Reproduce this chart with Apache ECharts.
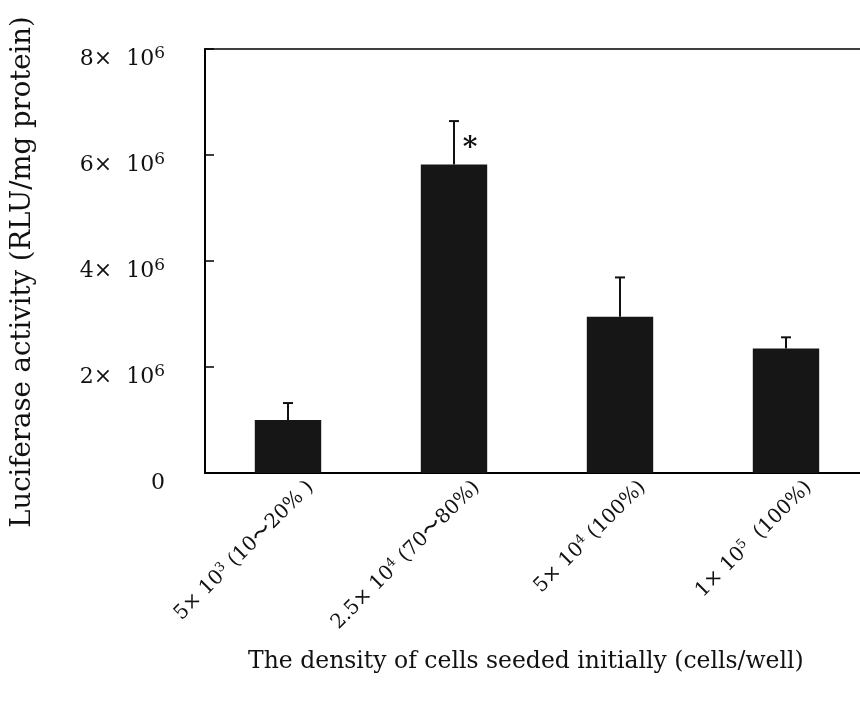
<!DOCTYPE html>
<html>
<head>
<meta charset="utf-8">
<script src="https://cdn.jsdelivr.net/npm/echarts@6/dist/echarts.min.js"></script>
<style>
  html, body { margin: 0; padding: 0; background: #fff; }
  #chart { width: 860px; height: 706px; }
</style>
</head>
<body>
<div id="chart"></div>
<script>
// Seeding densities (cells/well) with confluence
const densityBase = ['5× 10', '2.5× 10', '5× 10', '1× 10'];
const densityExp = ['3', '4', '4', '5'];
const confluence = [' (10〜20% )', ' (70〜80%)', ' (100%)', '  (100%)'];

// Luciferase activity (RLU/mg protein): mean and upper error (SD)
const meanActivity = [1.0e6, 5.82e6, 2.95e6, 2.35e6];
const errActivity = [0.32e6, 0.82e6, 0.74e6, 0.21e6];
const significance = ['', '*', '', ''];

// Y axis ticks
const yTicks = [0, 2e6, 4e6, 6e6, 8e6];

const FONT = 'DejaVu Serif';
const categories = densityBase.map((b, i) => i);

const chart = echarts.init(document.getElementById('chart'), null, { renderer: 'canvas' });

const option = {
  animation: false,
  backgroundColor: '#fff',
  grid: {
    left: 205, top: 49, width: 664, height: 424,
    outerBoundsMode: 'none',
    containLabel: false,
    show: true, borderColor: '#000', borderWidth: 1.5, backgroundColor: 'transparent'
  },
  xAxis: {
    type: 'category',
    data: categories,
    boundaryGap: true,
    axisLine: { lineStyle: { color: '#000', width: 2 } },
    axisTick: { inside: true, length: 9, lineStyle: { color: '#000', width: 1.5 } },
    axisLabel: {
      rotate: 45,
      margin: 34,
      interval: 0,
      color: '#111',
      fontFamily: FONT,
      padding: [0, -32, 0, 0],
      formatter: function (v) {
        const i = +v;
        return '{n|' + densityBase[i] + '}{s|' + densityExp[i] + '}{n|' + confluence[i] + '}';
      },
      rich: {
        n: { fontFamily: FONT, fontSize: 20, color: '#111' },
        s: { fontFamily: FONT, fontSize: 13, color: '#111', padding: [0, 0, 10, 0] }
      }
    }
  },
  yAxis: {
    type: 'value',
    min: yTicks[0],
    max: yTicks[yTicks.length - 1],
    interval: yTicks[1] - yTicks[0],
    splitLine: { show: false },
    axisLine: { show: true, lineStyle: { color: '#000', width: 2 } },
    axisTick: { show: true, inside: true, length: 9, lineStyle: { color: '#000', width: 1.5 } },
    axisLabel: {
      margin: 40,
      color: '#111',
      padding: [20, 0, 0, 0],
      formatter: function (v) {
        if (v === 0) return '{n|0}';
        return '{n|' + (v / 1e6) + '×  10}{s|6}';
      },
      rich: {
        n: { fontFamily: FONT, fontSize: 22, color: '#111' },
        s: { fontFamily: FONT, fontSize: 17, color: '#111', padding: [0, 0, 10, 0] }
      }
    }
  },
  title: {
    text: 'The density of cells seeded initially (cells/well)',
    left: 243, top: 645,
    textStyle: { fontFamily: FONT, fontSize: 23.5, fontWeight: 'normal', color: '#111' }
  },
  graphic: [{
    type: 'text',
    x: 23, y: 272,
    rotation: Math.PI / 2,
    style: {
      text: 'Luciferase activity (RLU/mg protein)',
      fontFamily: FONT, fontSize: 27.5, fill: '#111',
      align: 'center', verticalAlign: 'middle'
    }
  }],
  series: [
    {
      type: 'bar',
      data: meanActivity,
      barWidth: '40%',
      itemStyle: { color: '#161616' },
      z: 2
    },
    {
      type: 'custom',
      data: meanActivity.map((m, i) => [i, m, m + errActivity[i]]),
      z: 3,
      renderItem: function (params, api) {
        const i = api.value(0);
        const base = api.coord([i, api.value(1)]);
        const top = api.coord([i, api.value(2)]);
        const cap = 5;
        const children = [
          { type: 'line', shape: { x1: base[0], y1: base[1], x2: top[0], y2: top[1] },
            style: { stroke: '#111', lineWidth: 2 } },
          { type: 'line', shape: { x1: top[0] - cap, y1: top[1], x2: top[0] + cap, y2: top[1] },
            style: { stroke: '#111', lineWidth: 2 } }
        ];
        if (significance[i]) {
          children.push({
            type: 'text',
            x: base[0] + 16, y: base[1] - 16,
            style: { text: significance[i], fontFamily: FONT, fontSize: 28, fontWeight: 'bold',
                     fill: '#111', align: 'center', verticalAlign: 'middle' }
          });
        }
        return { type: 'group', children: children };
      }
    }
  ]
};

chart.setOption(option);
</script>
</body>
</html>
